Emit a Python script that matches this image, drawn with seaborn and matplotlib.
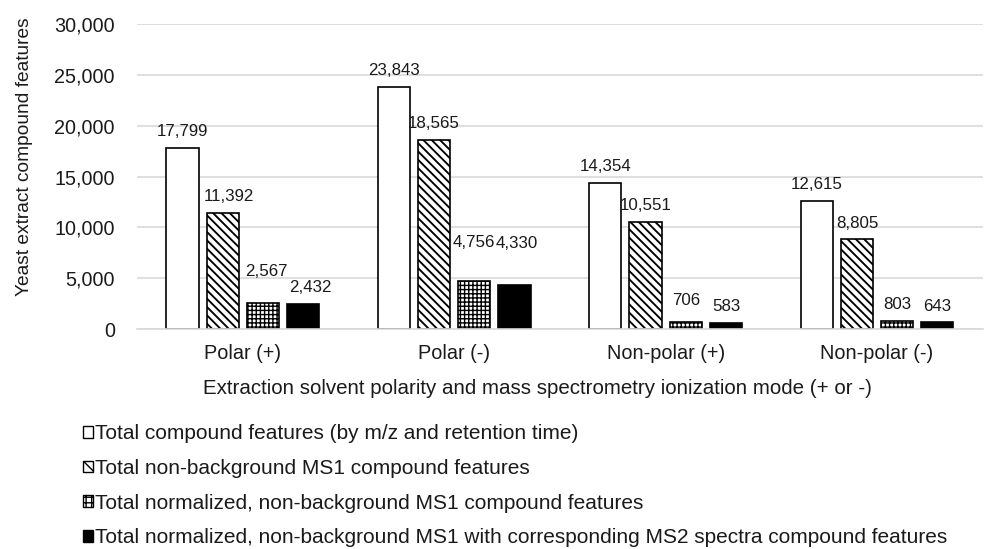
import matplotlib
matplotlib.use("Agg")
import matplotlib.pyplot as plt
import seaborn as sns
import pandas as pd
from matplotlib.patches import Patch

categories = ["Polar (+)", "Polar (-)", "Non-polar (+)", "Non-polar (-)"]
series_names = [
    "Total compound features (by m/z and retention time)",
    "Total non-background MS1 compound features",
    "Total normalized, non-background MS1 compound features",
    "Total normalized, non-background MS1 with corresponding MS2 spectra compound features",
]
total_features = [17799, 23843, 14354, 12615]
non_background = [11392, 18565, 10551, 8805]
normalized = [2567, 4756, 706, 803]
with_ms2 = [2432, 4330, 583, 643]

series_values = [total_features, non_background, normalized, with_ms2]
rows = []
for name, vals in zip(series_names, series_values):
    for cat, v in zip(categories, vals):
        rows.append({"mode": cat, "series": name, "count": v})
df = pd.DataFrame(rows)

sns.set_theme(style="white")
plt.rcParams["font.family"] = ["Liberation Sans", "DejaVu Sans"]
plt.rcParams["hatch.linewidth"] = 1.0
TEXT = "#1a1a1a"

fig = plt.figure(figsize=(9.87, 5.49), dpi=100)
ax = fig.add_axes([0.1388, 0.4007, 0.857, 0.5556])

fills = ["white", "white", "white", "black"]
hatches = ["", "\\\\\\\\", "++++", ""]
hatch_widths = [1.0, 1.35, 1.0, 1.0]

sns.barplot(data=df, x="mode", y="count", hue="series", order=categories,
            hue_order=series_names, ax=ax, width=0.76, gap=0.2,
            palette=["white"] * 4, edgecolor="black", linewidth=1.2,
            legend=False)

# nudges (pixels) for value labels that would otherwise collide
label_nudge = {(1, 0): (6, 0), (2, 0): (4, 15), (3, 0): (7, 0),
               (2, 1): (0, 22), (3, 1): (2, 25), (2, 2): (0, 5)}


def style_patch(p, fc, h, hw):
    p.set_facecolor(fc)
    p.set_hatch(h)
    p.set_edgecolor("black")
    if hasattr(p, "set_hatch_linewidth"):
        p.set_hatch_linewidth(hw)


for si, (cont, fc, h, hw) in enumerate(zip(ax.containers, fills, hatches, hatch_widths)):
    for ci, bar in enumerate(cont):
        style_patch(bar, fc, h, hw)
        dx, dy = label_nudge.get((si, ci), (0, 0))
        ax.annotate(f"{int(bar.get_height()):,}",
                    xy=(bar.get_x() + bar.get_width() / 2, bar.get_height()),
                    xytext=(dx * 0.72, 8.5 + dy * 0.72), textcoords="offset points",
                    ha="center", va="baseline", fontsize=12.2, color=TEXT)

ax.set_ylim(0, 30000)
ax.set_yticks(range(0, 30001, 5000))
ax.set_yticklabels([f"{t:,}" for t in range(0, 30001, 5000)], fontsize=14.2,
                   color=TEXT)
ax.tick_params(axis="x", labelsize=14.3, length=0, pad=11, labelcolor=TEXT)
ax.tick_params(axis="y", length=0, pad=16)
ax.yaxis.grid(True, color="#d9d9d9", linewidth=1.2)
ax.set_axisbelow(True)
for s in ["top", "right", "left"]:
    ax.spines[s].set_visible(False)
ax.spines["bottom"].set_color("#d9d9d9")
ax.spines["bottom"].set_linewidth(1.2)

ax.set_ylabel("Yeast extract compound features", fontsize=13.8, color=TEXT)
ax.yaxis.set_label_coords(-0.123, 0.564)
ax.set_xlabel("Extraction solvent polarity and mass spectrometry ionization mode (+ or -)",
              fontsize=14.8, color=TEXT)
ax.xaxis.set_label_coords(0.473, -0.165)

handles = []
for fc, h, hw in zip(fills, ["", "\\\\\\", "+++", ""], hatch_widths):
    p = Patch(linewidth=1.0)
    style_patch(p, fc, h, hw)
    handles.append(p)
fig.legend(handles, series_names, loc="upper left",
           bbox_to_anchor=(0.084, 0.227), frameon=False, fontsize=15,
           handlelength=0.48, handleheight=0.48, handletextpad=0.12,
           labelspacing=0.75, borderaxespad=0, borderpad=0,
           labelcolor=TEXT)

fig.savefig("out.png", dpi=100, facecolor="white")
